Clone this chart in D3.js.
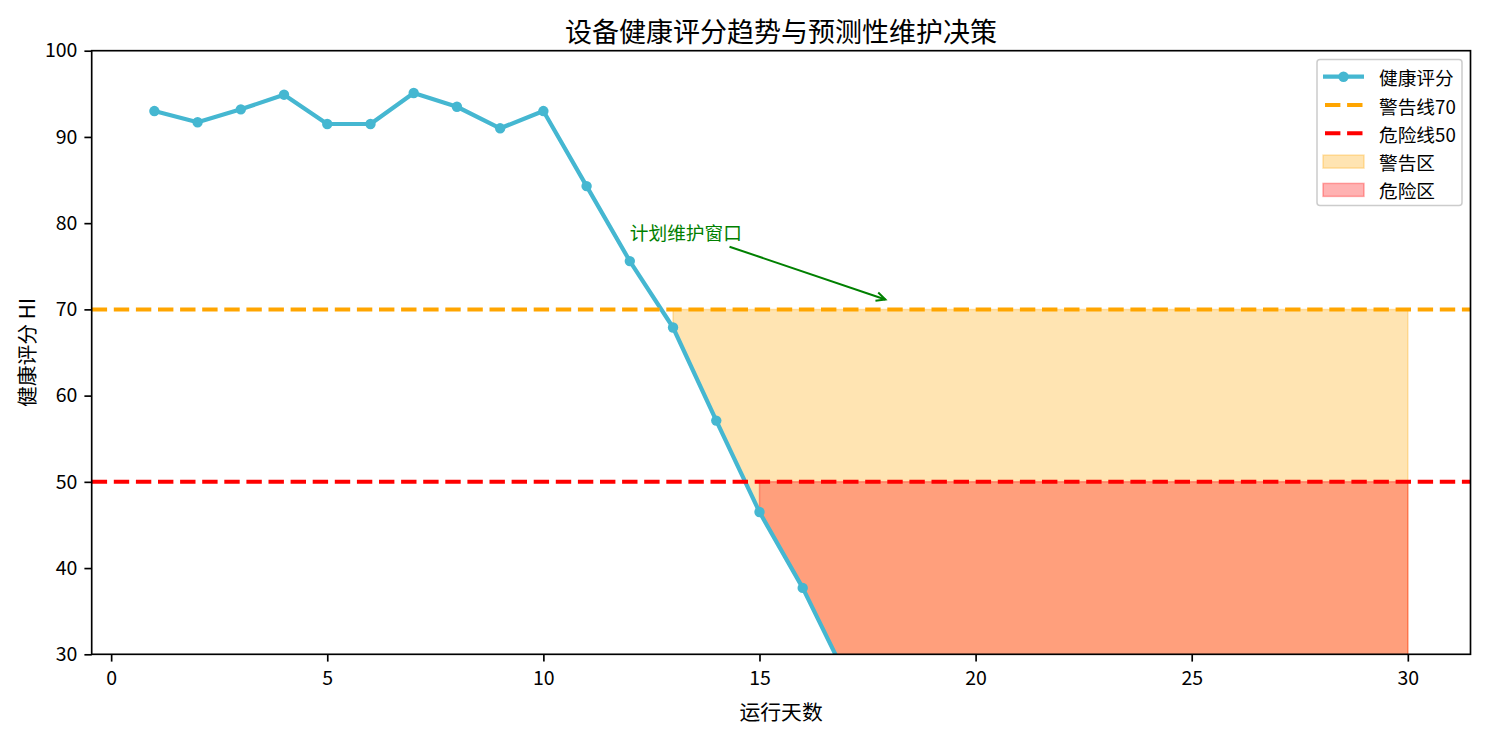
<!DOCTYPE html>
<html>
<head>
<meta charset="utf-8">
<script src="https://cdn.jsdelivr.net/npm/d3@7"></script>
<style>
  body { margin: 0; background: #fff; }
  text { font-family: "Noto Sans CJK SC", "DejaVu Sans", sans-serif; fill: #000; }
</style>
</head>
<body>
<div id="chart"></div>
<script>
// running days and health index
const days = d3.range(1, 31);
const health = [93.0, 91.7, 93.2, 94.9, 91.5, 91.5, 95.1, 93.5, 91.0, 93.0,
                84.3, 75.6, 67.9, 57.1, 46.5, 37.7, 27.5, 18.5, 9.8, 1.6,
                0, 0, 0, 0, 0, 0, 0, 0, 0, 0];
const warnLevel = 70;
const dangerLevel = 50;
const xTicks = [0, 5, 10, 15, 20, 25, 30];
const yTicks = [30, 40, 50, 60, 70, 80, 90, 100];
const legendLabels = ["健康评分", "警告线70", "危险线50", "警告区", "危险区"];

const W = 1486, H = 735;
const pLeft = 91.7, pRight = 1470.5, pTop = 50.7, pBottom = 654.3;

const lineColor = "#45B7D1";

const svg = d3.select("#chart").append("svg")
    .attr("width", W)
    .attr("height", H);

const x = d3.scaleLinear().domain([-0.45, 31.45]).range([pLeft, pRight]);
const y = d3.scaleLinear().domain([30, 100]).range([pBottom, pTop]);

svg.append("defs").append("clipPath").attr("id", "plot")
  .append("rect")
    .attr("x", pLeft).attr("y", pTop)
    .attr("width", pRight - pLeft).attr("height", pBottom - pTop);

const data = days.map((d, i) => ({day: d, hi: health[i]}));

const plot = svg.append("g").attr("clip-path", "url(#plot)");

// shaded zones (fill_between with where=)
function zone(level) {
    const sub = data.filter(d => d.hi < level);
    return d3.area()
        .x(d => x(d.day))
        .y0(d => y(d.hi))
        .y1(() => y(level))(sub);
}

plot.append("path")
    .attr("d", zone(warnLevel))
    .attr("fill", "orange").attr("fill-opacity", 0.3)
    .attr("stroke", "orange").attr("stroke-opacity", 0.3)
    .attr("stroke-width", 1.5);

plot.append("path")
    .attr("d", zone(dangerLevel))
    .attr("fill", "red").attr("fill-opacity", 0.3)
    .attr("stroke", "red").attr("stroke-opacity", 0.3)
    .attr("stroke-width", 1.5);

// health line
plot.append("path")
    .datum(data)
    .attr("fill", "none")
    .attr("stroke", lineColor)
    .attr("stroke-width", 4.2)
    .attr("stroke-linejoin", "round")
    .attr("d", d3.line().x(d => x(d.day)).y(d => y(d.hi)));

plot.selectAll("circle.pt")
    .data(data)
    .join("circle")
    .attr("class", "pt")
    .attr("cx", d => x(d.day))
    .attr("cy", d => y(d.hi))
    .attr("r", 5.2)
    .attr("fill", lineColor);

// threshold lines
[[warnLevel, "orange"], [dangerLevel, "red"]].forEach(([v, c]) => {
    plot.append("line")
        .attr("x1", pLeft).attr("x2", pRight)
        .attr("y1", y(v)).attr("y2", y(v))
        .attr("stroke", c)
        .attr("stroke-width", 4)
        .attr("stroke-dasharray", "15.4,6.7");
});

// axes
const xAxis = svg.append("g")
    .attr("transform", `translate(0,${pBottom})`)
    .call(d3.axisBottom(x).tickValues(xTicks).tickSize(7.3).tickPadding(10));
const yAxis = svg.append("g")
    .attr("transform", `translate(${pLeft},0)`)
    .call(d3.axisLeft(y).tickValues(yTicks).tickSize(7.3).tickPadding(7));

[xAxis, yAxis].forEach(g => {
    g.select(".domain").remove();
    g.selectAll(".tick line").attr("stroke", "#000").attr("stroke-width", 1.67);
    g.selectAll(".tick text")
        .style("font-size", "19.5px")
        .style("font-family", "\"Noto Sans CJK SC\", sans-serif")
        .attr("fill", "#000");
});

svg.append("rect")
    .attr("x", pLeft).attr("y", pTop)
    .attr("width", pRight - pLeft).attr("height", pBottom - pTop)
    .attr("fill", "none")
    .attr("stroke", "#000")
    .attr("stroke-width", 1.67);

// titles
svg.append("text")
    .attr("x", (pLeft + pRight) / 2).attr("y", 30)
    .attr("text-anchor", "middle")
    .attr("dominant-baseline", "central")
    .style("font-size", "27px")
    .text("设备健康评分趋势与预测性维护决策");

svg.append("text")
    .attr("x", (pLeft + pRight) / 2).attr("y", 711)
    .attr("text-anchor", "middle")
    .attr("dominant-baseline", "central")
    .style("font-size", "20.8px")
    .text("运行天数");

svg.append("text")
    .attr("transform", `translate(26,${(pTop + pBottom) / 2}) rotate(-90)`)
    .attr("text-anchor", "middle")
    .attr("dominant-baseline", "central")
    .style("font-size", "20.8px")
    .text("健康评分 HI");

// annotation
const green = "green";
const note = svg.append("text")
    .attr("x", x(12)).attr("y", y(78))
    .style("font-size", "18.7px")
    .style("fill", green)
    .text("计划维护窗口");

const bb = note.node().getBBox();
const cx = bb.x + bb.width / 2, cy = bb.y + bb.height / 2;
const tx = x(18), ty = y(71);
const dx = tx - cx, dy = ty - cy;
// leave the text box through its bottom or right edge
const tEdge = Math.min((bb.height / 2) / Math.abs(dy), (bb.width / 2) / Math.abs(dx));
const len = Math.hypot(dx, dy);
const ux = dx / len, uy = dy / len;
const sx = cx + dx * tEdge + ux * 4, sy = cy + dy * tEdge + uy * 4;
const ex = tx - ux * 4, ey = ty - uy * 4;

svg.append("line")
    .attr("x1", sx).attr("y1", sy).attr("x2", ex).attr("y2", ey)
    .attr("stroke", green).attr("stroke-width", 2);

const ang = Math.atan2(uy, ux), head = 10, spread = 0.45;
svg.append("path")
    .attr("d", `M${ex - head * Math.cos(ang - spread)},${ey - head * Math.sin(ang - spread)}
                L${ex},${ey}
                L${ex - head * Math.cos(ang + spread)},${ey - head * Math.sin(ang + spread)}`)
    .attr("fill", "none")
    .attr("stroke", green).attr("stroke-width", 2);

// legend
const lg = svg.append("g");
lg.append("rect")
    .attr("x", 1317).attr("y", 59.5)
    .attr("width", 145).attr("height", 146)
    .attr("rx", 3)
    .attr("fill", "#fff").attr("fill-opacity", 0.8)
    .attr("stroke", "#cccccc").attr("stroke-width", 1.5);

const rowY = i => 76.7 + i * 28.3;
const hx0 = 1323, hx1 = 1364;

legendLabels.forEach((lab, i) => {
    const yy = rowY(i);
    if (i === 0) {
        lg.append("line").attr("x1", hx0).attr("x2", hx1).attr("y1", yy).attr("y2", yy)
            .attr("stroke", lineColor).attr("stroke-width", 4.2);
        lg.append("circle").attr("cx", (hx0 + hx1) / 2).attr("cy", yy).attr("r", 5.2)
            .attr("fill", lineColor);
    } else if (i < 3) {
        lg.append("line").attr("x1", hx0).attr("x2", hx1).attr("y1", yy).attr("y2", yy)
            .attr("stroke", i === 1 ? "orange" : "red")
            .attr("stroke-width", 4)
            .attr("stroke-dasharray", "15.4,6.7")
            .attr("stroke-dashoffset", -2);
    } else {
        const c = i === 3 ? "orange" : "red";
        lg.append("rect").attr("x", hx0).attr("y", yy - 6.5)
            .attr("width", hx1 - hx0).attr("height", 13)
            .attr("fill", c).attr("fill-opacity", 0.3)
            .attr("stroke", c).attr("stroke-opacity", 0.3).attr("stroke-width", 1.5);
    }
    lg.append("text")
        .attr("x", 1379).attr("y", yy)
        .attr("dominant-baseline", "central")
        .style("font-size", "18.7px")
        .text(lab);
});
</script>
</body>
</html>
